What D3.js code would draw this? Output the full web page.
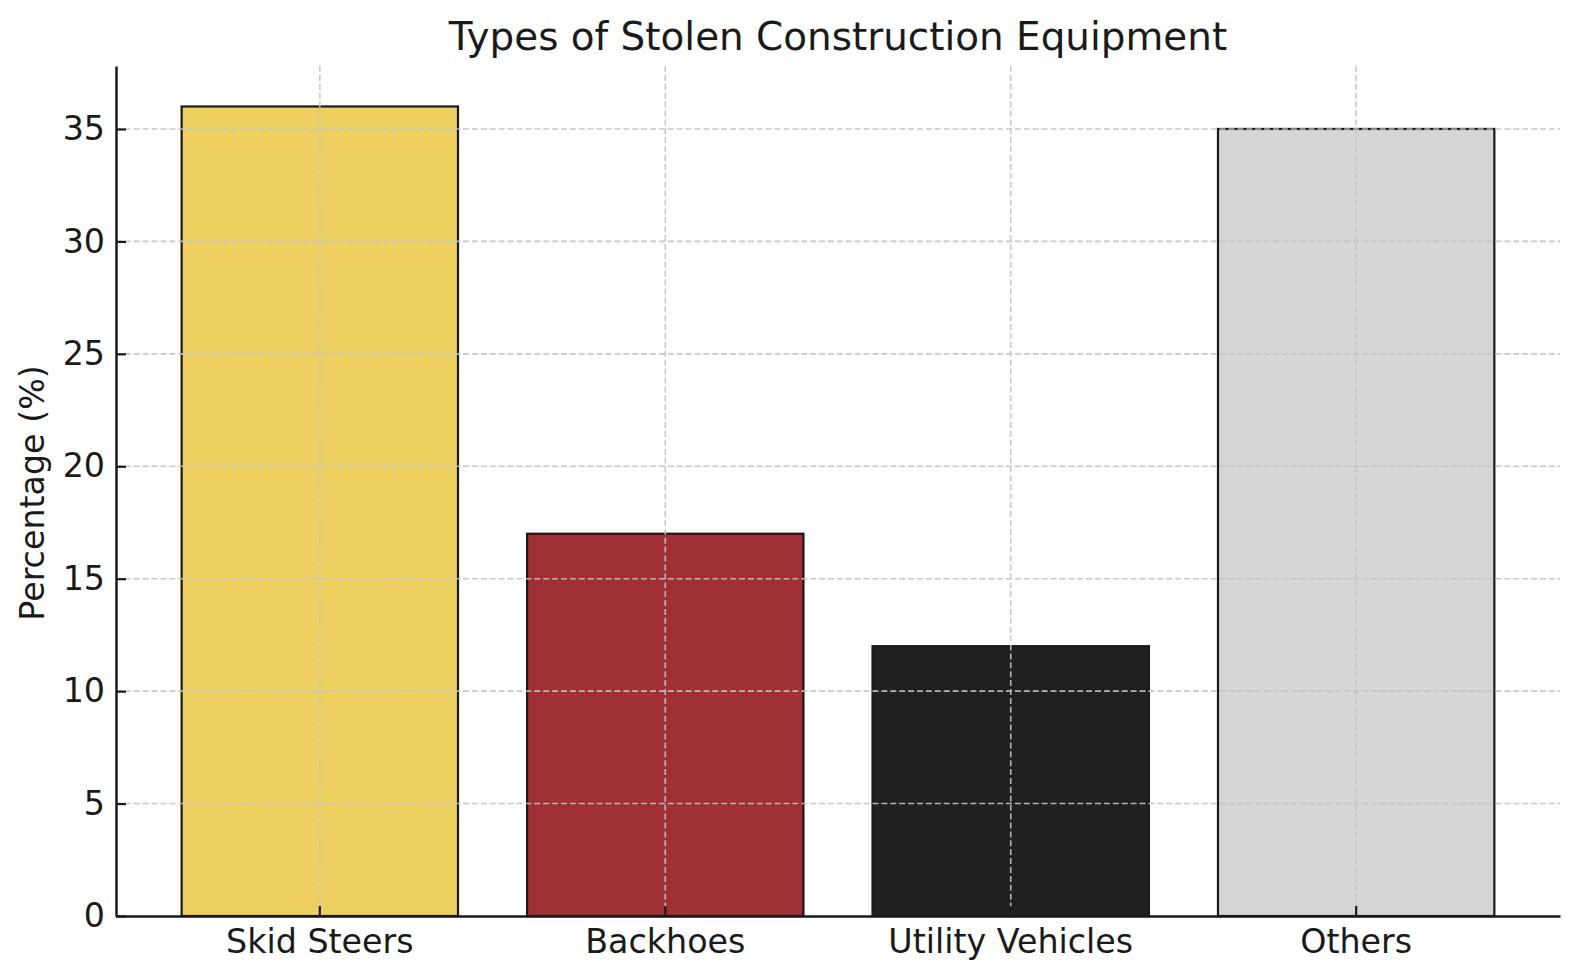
<!DOCTYPE html>
<html>
<head>
<meta charset="utf-8">
<script src="https://cdn.jsdelivr.net/npm/d3@7"></script>
<style>
  html, body { margin: 0; padding: 0; background: #ffffff; }
  svg { display: block; font-family: "DejaVu Sans", sans-serif; }
</style>
</head>
<body>
<svg id="chart" width="1580" height="980"></svg>
<script>
const categories = ["Skid Steers", "Backhoes", "Utility Vehicles", "Others"];
const values = [36, 17, 12, 35];
const barColors = ["#EDD060", "#A03035", "#1F2020", "#D6D6D6"];
const yTicks = [0, 5, 10, 15, 20, 25, 30, 35];
const titleText = "Types of Stolen Construction Equipment";
const yLabelText = "Percentage (%)";

(function () {
const svg = d3.select("#chart");
const pLeft = 116, pRight = 1560, pTop = 66, pBottom = 916;
const ink = "#1a1a1a";

const x = d3.scaleBand().domain(categories).range([pLeft, pRight])
  .paddingInner(0.2).paddingOuter(0.19).align(0.5);
const y = d3.scaleLinear().domain([0, 37.8]).range([pBottom, pTop]);

// bars
svg.append("g").selectAll("rect").data(categories).join("rect")
  .attr("x", d => x(d))
  .attr("y", (d, i) => y(values[i]))
  .attr("width", x.bandwidth())
  .attr("height", (d, i) => y(0) - y(values[i]))
  .attr("fill", (d, i) => barColors[i])
  .attr("stroke", ink)
  .attr("stroke-width", 2.2);

// grid (on top of bars)
const grid = svg.append("g").attr("stroke", "#c4c4c4").attr("stroke-width", 1.6)
  .attr("stroke-dasharray", "6,2.9").attr("opacity", 0.9);
grid.selectAll("line.h").data(yTicks.filter(t => t > 0)).join("line").attr("class", "h")
  .attr("x1", pLeft).attr("x2", pRight)
  .attr("y1", d => y(d)).attr("y2", d => y(d));
grid.selectAll("line.v").data(categories).join("line").attr("class", "v")
  .attr("x1", d => x(d) + x.bandwidth() / 2).attr("x2", d => x(d) + x.bandwidth() / 2)
  .attr("y1", pTop).attr("y2", pBottom);

// axes
const yAxis = svg.append("g").attr("transform", `translate(${pLeft},0)`)
  .call(d3.axisLeft(y).tickValues(yTicks).tickSizeInner(-10).tickSizeOuter(0).tickPadding(11));
const xAxis = svg.append("g").attr("transform", `translate(0,${pBottom})`)
  .call(d3.axisBottom(x).tickSizeInner(-10).tickSizeOuter(0).tickPadding(13.5));

[yAxis, xAxis].forEach(g => {
  g.select(".domain").attr("stroke", ink).attr("stroke-width", 2.5);
  g.selectAll(".tick line").attr("stroke", ink).attr("stroke-width", 2.2);
  g.selectAll(".tick text").attr("fill", ink)
    .style("font-family", "'DejaVu Sans', sans-serif").style("font-size", "33.3px");
});

// title
svg.append("text").attr("x", (pLeft + pRight) / 2).attr("y", 50)
  .attr("text-anchor", "middle").attr("fill", ink)
  .style("font-size", "38.9px").text(titleText);

// y label
svg.append("text").attr("transform", `translate(44,${(pTop + pBottom) / 2 + 2}) rotate(-90)`)
  .attr("text-anchor", "middle").attr("fill", ink)
  .style("font-size", "33.3px").text(yLabelText);
})();
</script>
</body>
</html>
